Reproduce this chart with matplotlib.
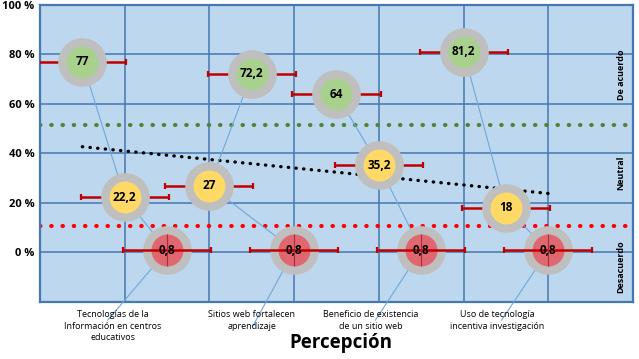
import matplotlib
matplotlib.use("Agg")
import matplotlib.pyplot as plt

plt.rcParams['font.family'] = ['Open Sans', 'DejaVu Sans']

# datos: posicion x de cada burbuja y su porcentaje
grupos = [
    {"x": [0.5, 1.0, 1.5], "y": [77, 22.2, 0.8]},
    {"x": [2.5, 2.0, 3.0], "y": [72.2, 27, 0.8]},
    {"x": [3.5, 4.0, 4.5], "y": [64, 35.2, 0.8]},
    {"x": [5.0, 5.5, 6.0], "y": [81.2, 18, 0.8]},
]
etiquetas_valor = [["77", "22,2", "0,8"], ["72,2", "27", "0,8"],
                   ["64", "35,2", "0,8"], ["81,2", "18", "0,8"]]
colores = ["#A9D18E", "#FFD966", "#E06670"]  # acuerdo, neutral, desacuerdo

categorias = ["Tecnologías de la\nInformación en centros\neducativos",
              "Sitios web fortalecen\naprendizaje",
              "Beneficio de existencia\nde un sitio web",
              "Uso de tecnología\nincentiva investigación"]
cat_x = [0.86, 2.5, 3.9, 5.4]
# punto final de las lineas guia (debajo del eje)
guia_x = [0.80, 2.51, 3.96, 5.45]
guia_y = [-27.4, -30, -27.4, -27.4]

xerr = 0.52
verr = 6.5
linea_acuerdo = 51.6
linea_desacuerdo = 10.6
tendencia_x = [0.5, 6.0]
tendencia_y = [42.7, 23.8]

yticks = [0, 20, 40, 60, 80, 100]

fig = plt.figure(figsize=(6.39, 3.59), dpi=100)
ax = fig.add_axes([0.0626, 0.158, 0.928, 0.828])
ax.set_facecolor("#BDD7EE")
ax.set_xlim(0, 7)
ax.set_ylim(-20.2, 100)

grid_c = "#4577B0"
for gx in range(0, 8):
    ax.axvline(gx, color=grid_c, lw=1.1, zorder=1)
for gy in [-20, 0, 20, 40, 60, 80, 100]:
    ax.axhline(gy, color=grid_c, lw=1.1, zorder=1)
for s in ax.spines.values():
    s.set_color(grid_c)
    s.set_linewidth(1.6)

# lineas de referencia
ax.axhline(linea_acuerdo, color="#548235", lw=3, ls=(0, (0.1, 2.6)),
           dash_capstyle="round", zorder=2)
ax.axhline(linea_desacuerdo, color="#FF0000", lw=3, ls=(0, (0.1, 2.6)),
           dash_capstyle="round", zorder=2)
ax.plot(tendencia_x, tendencia_y, color="black", lw=2.4, ls=(0, (0.1, 2.2)),
        dash_capstyle="round", zorder=2)

for i, g in enumerate(grupos):
    # linea guia
    ax.plot(g["x"] + [guia_x[i]], g["y"] + [guia_y[i]], color="#6FA8DC",
            lw=0.8, zorder=3, clip_on=False)
    for j in range(3):
        xv, yv = g["x"][j], g["y"][j]
        z = 4 if j < 2 else 6
        ax.errorbar(xv, yv, xerr=xerr, fmt="none", ecolor="#C00000",
                    elinewidth=1.8, capsize=2.5, capthick=1.6, zorder=z)
        if j == 2:
            ax.errorbar(xv, yv, yerr=verr, fmt="none", ecolor="#A0303A",
                        elinewidth=0.8, capsize=0, zorder=z)
        ax.plot(xv, yv, "o", ms=35, mfc="#BFBFBF", mec="none", zorder=5 if j < 2 else 4)
        ax.plot(xv, yv, "o", ms=23, mfc=colores[j], mec="none", zorder=5 if j < 2 else 4)
        ax.text(xv, yv, etiquetas_valor[i][j], ha="center", va="center",
                fontsize=8.5, fontweight="bold", zorder=7)

ax.set_yticks(yticks)
ax.set_yticklabels([f"{v} %" for v in yticks], fontsize=8, fontweight="bold")
ax.tick_params(axis="y", length=0, pad=4)
ax.set_xticks([])

for cx, ct in zip(cat_x, categorias):
    ax.text(cx, -23.5, ct, ha="center", va="top", fontsize=6.5,
            linespacing=1.35, clip_on=False)

ax.text(3.55, -36.5, "Percepción", ha="center", va="center", fontsize=13.5,
        fontweight="bold", clip_on=False)

for ty, tt in [(72, "De acuerdo"), (32, "Neutral"), (-6, "Desacuerdo")]:
    ax.text(6.86, ty, tt, rotation=90, ha="center", va="center",
            fontsize=6.5, fontweight="bold", zorder=7)

fig.savefig("out.png", dpi=100)
